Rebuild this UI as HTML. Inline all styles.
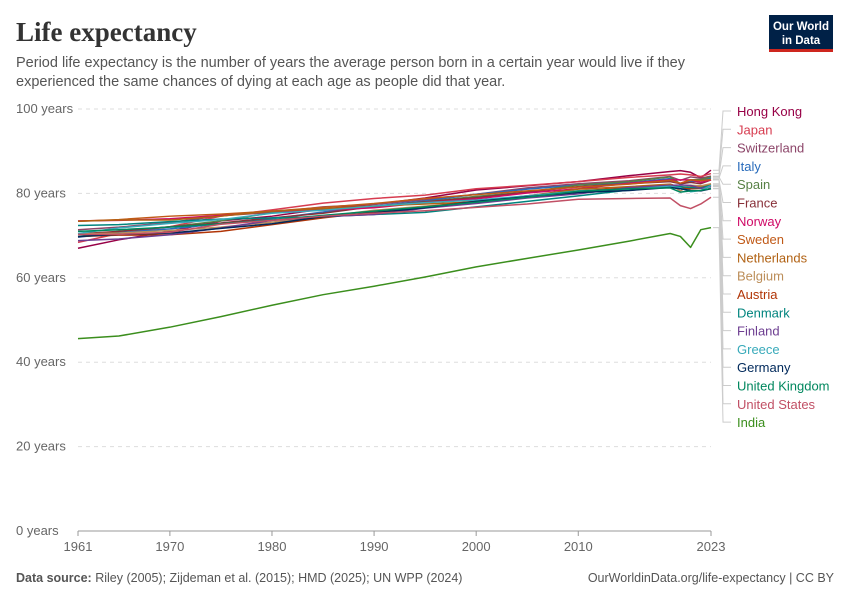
<!DOCTYPE html>
<html><head><meta charset="utf-8"><style>
body{margin:0;background:#fff;width:850px;height:600px;overflow:hidden;font-family:"Liberation Sans",sans-serif}
</style></head><body>
<svg id="chart" width="850" height="600" xmlns="http://www.w3.org/2000/svg">
<text x="16" y="41" font-family="Liberation Serif,serif" font-size="27" font-weight="bold" fill="#333">Life expectancy</text>
<text x="16" y="67" font-size="14.5" fill="#555">Period life expectancy is the number of years the average person born in a certain year would live if they</text>
<text x="16" y="86" font-size="14.5" fill="#555">experienced the same chances of dying at each age as people did that year.</text>
<g>
<rect x="769" y="15" width="64" height="37" fill="#002147"/>
<rect x="769" y="49" width="64" height="3" fill="#ce261e"/>
<text x="801" y="30" font-size="11.5" fill="#fff" text-anchor="middle" font-weight="bold">Our World</text>
<text x="801" y="44" font-size="11.5" fill="#fff" text-anchor="middle" font-weight="bold">in Data</text>
</g>
<g id="axes"></g>
<g id="lines"></g>
<g id="legend"></g>
<text x="16" y="582" font-size="12.5" fill="#555"><tspan font-weight="bold">Data source:</tspan> Riley (2005); Zijdeman et al. (2015); HMD (2025); UN WPP (2024)</text>
<text x="834" y="582" font-size="12.5" fill="#555" text-anchor="end">OurWorldinData.org/life-expectancy | CC BY</text>
</svg>
<script>
const years=[1961,1965,1970,1975,1980,1985,1990,1995,2000,2005,2010,2015,2019,2020,2021,2022,2023];
const countries=["Hong Kong","Japan","Switzerland","Italy","Spain","France","Norway","Sweden","Netherlands","Belgium","Austria","Denmark","Finland","Greece","Germany","United Kingdom","United States","India"];
const colors=["#970046","#D73C50","#8C4569","#286BBB","#578145","#883039","#CF0A66","#C05917","#B16214","#BC8E5A","#B13507","#00847E","#6D3E91","#38AABA","#00295B","#00875E","#C15065","#3B8E1D"];
const hongKong=[67,69,71,73.5,74.6,76.3,77.4,78.9,80.8,81.8,82.8,84.2,85.2,85.4,85.0,83.7,85.5];
const japan=[68.4,70.5,72.1,74.6,76.1,77.7,78.8,79.6,81.1,81.9,82.8,83.8,84.4,84.6,84.4,84.0,84.7];
const switzerland=[71.4,72,73.1,74.7,75.5,76.8,77.4,78.5,79.8,81.3,82.3,83.0,84.0,83.1,83.9,83.6,84.1];
const italy=[69.6,70.7,71.6,72.8,74.0,75.6,77.0,78.2,79.8,81.0,82.0,82.5,83.5,82.2,82.8,83.0,83.6];
const spain=[69.8,71,72.1,73.5,75.4,76.3,76.9,78.0,79.3,80.3,82.0,82.8,83.9,82.3,83.2,83.3,83.9];
const france=[70.4,71,72.1,73,74.2,75.3,76.9,78,79,80.3,81.6,82.3,82.8,82.3,82.6,82.3,83.2];
const norway=[73.5,73.6,74,74.8,75.8,76.0,76.6,77.8,78.7,80.1,81.1,82.4,83.2,83.2,83.2,82.6,83.2];
const sweden=[73.4,73.8,74.6,75.1,75.8,76.7,77.6,78.8,79.7,80.6,81.5,82.2,83.1,82.4,83.2,83.0,83.3];
const netherlands=[73.4,73.7,73.7,74.6,75.8,76.4,77.0,77.5,78.0,79.4,81.0,81.6,82.2,81.4,81.6,81.6,82.2];
const belgium=[70.4,70.6,71.2,72.0,73.2,74.5,76.0,77.0,77.8,79.0,80.3,81.1,82.1,80.6,81.9,81.8,82.3];
const austria=[69.8,70.1,70.2,71.0,72.6,74.2,75.6,76.8,78.2,79.4,80.6,81.3,82.0,81.3,81.1,81.2,81.7];
const denmark=[72.4,72.6,73.3,73.9,74.2,74.5,75.0,75.5,76.8,78.1,79.4,80.8,81.5,81.6,81.4,81.3,81.9];
const finland=[68.8,69.2,70.2,71.8,73.6,74.5,75.0,76.5,77.6,78.9,79.9,81.4,81.9,82.0,81.9,81.2,81.6];
const greece=[70.5,71.8,72.9,73.8,75.3,76.0,77.0,77.8,78.4,79.4,80.6,81.0,81.7,81.3,80.4,80.7,81.9];
const germany=[69.8,70.3,70.6,71.7,72.8,74.5,75.4,76.6,78.1,79.2,80.2,80.7,81.4,81.1,80.7,80.6,81.1];
const unitedKingdom=[71.0,71.4,72.0,72.8,73.7,74.8,75.8,76.8,77.9,79.1,80.5,81.1,81.3,80.3,80.6,80.7,81.2];
const unitedStates=[70.3,70.3,70.8,72.7,73.6,74.6,75.3,75.9,76.7,77.5,78.6,78.8,78.9,77.1,76.4,77.5,79.1];
const india=[45.6,46.2,48.3,50.8,53.5,56.0,58.0,60.2,62.6,64.6,66.6,68.7,70.5,69.8,67.2,71.4,71.9];
const series=[hongKong,japan,switzerland,italy,spain,france,norway,sweden,netherlands,belgium,austria,denmark,finland,greece,germany,unitedKingdom,unitedStates,india];
const yTicks=[0,20,40,60,80,100];
const xTicks=[1961,1970,1980,1990,2000,2010,2023];

const NS="http://www.w3.org/2000/svg";
const x0=78,x1=711,y0=531,y1=109;
const xs=y=>x0+(y-1961)/(2023-1961)*(x1-x0);
const ys=v=>y0-v/100*(y0-y1);
function mk(tag,attrs,parent){const e=document.createElementNS(NS,tag);for(const k in attrs)e.setAttribute(k,attrs[k]);parent.appendChild(e);return e;}
const axes=document.getElementById('axes');
yTicks.forEach(t=>{
  const g=mk('line',{x1:x0,x2:x1,y1:ys(t),y2:ys(t),stroke:t===0?'#999':'#ddd','stroke-dasharray':t===0?'':'4,4'},axes);
  
  
  const tx=mk('text',{x:16,y:ys(t)+4,'font-size':13,fill:'#666'},axes);
  tx.textContent=t+' years';
  
  
});
xTicks.forEach(t=>{
  const l=mk('line',{x1:xs(t),x2:xs(t),y1:y0,y2:y0+5,stroke:'#999'},axes);
  
  
  const tx=mk('text',{x:xs(t),y:y0+20,'font-size':13,fill:'#666','text-anchor':'middle'},axes);
  tx.textContent=t;
  
  
});
const lines=document.getElementById('lines');
const legend=document.getElementById('legend');
series.forEach((s,i)=>{
  const p=mk('polyline',{points:s.map((v,j)=>xs(years[j])+','+ys(v)).join(' '),fill:'none',stroke:colors[i],'stroke-width':1.5,'stroke-linejoin':'round'},lines);
  
  
  const ly=111+i*18.3;
  const ey=ys(s[s.length-1]);
  const c=mk('polyline',{points:`${x1+2},${ey} ${x1+8},${ey} ${x1+12},${ly} ${x1+20},${ly}`,fill:'none',stroke:'#ccc','stroke-width':1},legend);
  
  
  const t=mk('text',{x:737,y:ly+5,'font-size':13,fill:colors[i]},legend);
  t.textContent=countries[i];
  
  
});
</script>
</body></html>
